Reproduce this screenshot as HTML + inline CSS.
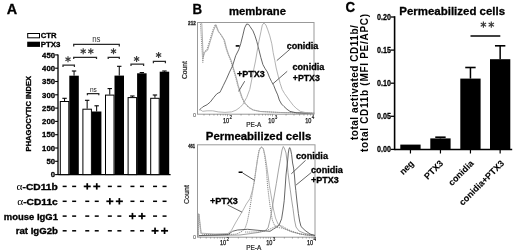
<!DOCTYPE html><html><head><meta charset="utf-8"><style>html,body{margin:0;padding:0;background:#fff;width:520px;height:252px;overflow:hidden}svg{display:block;filter:grayscale(1)}</style></head><body>
<svg width="520" height="252" viewBox="0 0 520 252">
<rect width="520" height="252" fill="#fff"/>
<text x="6.7" y="13.9" font-family="Liberation Sans, sans-serif" font-size="14.8" font-weight="bold" text-anchor="start" fill="#000" stroke="#000" stroke-width="0.3" textLength="10.4" lengthAdjust="spacingAndGlyphs" >A</text>
<rect x="27.7" y="33.5" width="11.8" height="4.3" fill="#fff" stroke="#000" stroke-width="1"/>
<rect x="27.2" y="41.7" width="12.8" height="5.2" fill="#000"/>
<text x="40.8" y="38.2" font-family="Liberation Sans, sans-serif" font-size="8.0" font-weight="bold" text-anchor="start" fill="#000" stroke="#000" stroke-width="0.3" textLength="15.8" lengthAdjust="spacingAndGlyphs" >CTR</text>
<text x="40.8" y="47.0" font-family="Liberation Sans, sans-serif" font-size="8.0" font-weight="bold" text-anchor="start" fill="#000" stroke="#000" stroke-width="0.3" textLength="19.7" lengthAdjust="spacingAndGlyphs" >PTX3</text>
<line x1="58.0" y1="54.39999999999999" x2="58.0" y2="175.1" stroke="#000" stroke-width="1.3" />
<line x1="55.1" y1="174.6" x2="58.0" y2="174.6" stroke="#000" stroke-width="1.1" />
<text x="55.0" y="177.3" font-family="Liberation Sans, sans-serif" font-size="7.5" font-weight="bold" text-anchor="end" fill="#000" stroke="#000" stroke-width="0.3" textLength="4.3" lengthAdjust="spacingAndGlyphs" >0</text>
<line x1="55.1" y1="161.29999999999998" x2="58.0" y2="161.29999999999998" stroke="#000" stroke-width="1.1" />
<text x="55.0" y="164.0" font-family="Liberation Sans, sans-serif" font-size="7.5" font-weight="bold" text-anchor="end" fill="#000" stroke="#000" stroke-width="0.3" textLength="8.6" lengthAdjust="spacingAndGlyphs" >50</text>
<line x1="55.1" y1="148.0" x2="58.0" y2="148.0" stroke="#000" stroke-width="1.1" />
<text x="55.0" y="150.7" font-family="Liberation Sans, sans-serif" font-size="7.5" font-weight="bold" text-anchor="end" fill="#000" stroke="#000" stroke-width="0.3" textLength="12.899999999999999" lengthAdjust="spacingAndGlyphs" >100</text>
<line x1="55.1" y1="134.7" x2="58.0" y2="134.7" stroke="#000" stroke-width="1.1" />
<text x="55.0" y="137.4" font-family="Liberation Sans, sans-serif" font-size="7.5" font-weight="bold" text-anchor="end" fill="#000" stroke="#000" stroke-width="0.3" textLength="12.899999999999999" lengthAdjust="spacingAndGlyphs" >150</text>
<line x1="55.1" y1="121.39999999999999" x2="58.0" y2="121.39999999999999" stroke="#000" stroke-width="1.1" />
<text x="55.0" y="124.1" font-family="Liberation Sans, sans-serif" font-size="7.5" font-weight="bold" text-anchor="end" fill="#000" stroke="#000" stroke-width="0.3" textLength="12.899999999999999" lengthAdjust="spacingAndGlyphs" >200</text>
<line x1="55.1" y1="108.1" x2="58.0" y2="108.1" stroke="#000" stroke-width="1.1" />
<text x="55.0" y="110.8" font-family="Liberation Sans, sans-serif" font-size="7.5" font-weight="bold" text-anchor="end" fill="#000" stroke="#000" stroke-width="0.3" textLength="12.899999999999999" lengthAdjust="spacingAndGlyphs" >250</text>
<line x1="55.1" y1="94.79999999999998" x2="58.0" y2="94.79999999999998" stroke="#000" stroke-width="1.1" />
<text x="55.0" y="97.5" font-family="Liberation Sans, sans-serif" font-size="7.5" font-weight="bold" text-anchor="end" fill="#000" stroke="#000" stroke-width="0.3" textLength="12.899999999999999" lengthAdjust="spacingAndGlyphs" >300</text>
<line x1="55.1" y1="81.49999999999999" x2="58.0" y2="81.49999999999999" stroke="#000" stroke-width="1.1" />
<text x="55.0" y="84.2" font-family="Liberation Sans, sans-serif" font-size="7.5" font-weight="bold" text-anchor="end" fill="#000" stroke="#000" stroke-width="0.3" textLength="12.899999999999999" lengthAdjust="spacingAndGlyphs" >350</text>
<line x1="55.1" y1="68.19999999999999" x2="58.0" y2="68.19999999999999" stroke="#000" stroke-width="1.1" />
<text x="55.0" y="70.9" font-family="Liberation Sans, sans-serif" font-size="7.5" font-weight="bold" text-anchor="end" fill="#000" stroke="#000" stroke-width="0.3" textLength="12.899999999999999" lengthAdjust="spacingAndGlyphs" >400</text>
<line x1="55.1" y1="54.89999999999999" x2="58.0" y2="54.89999999999999" stroke="#000" stroke-width="1.1" />
<text x="55.0" y="57.6" font-family="Liberation Sans, sans-serif" font-size="7.5" font-weight="bold" text-anchor="end" fill="#000" stroke="#000" stroke-width="0.3" textLength="12.899999999999999" lengthAdjust="spacingAndGlyphs" >450</text>
<line x1="58.0" y1="174.6" x2="170.6" y2="174.6" stroke="#000" stroke-width="1.3" />
<text transform="translate(30.8,113.7) rotate(-90)" x="0" y="0" font-family="Liberation Sans, sans-serif" font-size="7.5" font-weight="bold" stroke="#000" stroke-width="0.3" text-anchor="middle" textLength="75.4" lengthAdjust="spacingAndGlyphs">PHAGOCYTIC INDEX</text>
<line x1="64.55" y1="101.0" x2="64.55" y2="98.3" stroke="#000" stroke-width="1" />
<line x1="62.349999999999994" y1="98.3" x2="66.75" y2="98.3" stroke="#000" stroke-width="1.1" />
<line x1="74.05" y1="75.7" x2="74.05" y2="71.0" stroke="#000" stroke-width="1" />
<line x1="71.85" y1="71.0" x2="76.25" y2="71.0" stroke="#000" stroke-width="1.1" />
<rect x="60.3" y="101.5" width="8.5" height="73.1" fill="#fff" stroke="#000" stroke-width="1"/>
<rect x="69.3" y="75.7" width="9.5" height="98.89999999999999" fill="#000"/>
<line x1="87.15" y1="108.7" x2="87.15" y2="100.3" stroke="#000" stroke-width="1" />
<line x1="84.95" y1="100.3" x2="89.35000000000001" y2="100.3" stroke="#000" stroke-width="1.1" />
<line x1="96.65" y1="111.5" x2="96.65" y2="105.8" stroke="#000" stroke-width="1" />
<line x1="94.45" y1="105.8" x2="98.85000000000001" y2="105.8" stroke="#000" stroke-width="1.1" />
<rect x="82.9" y="109.2" width="8.5" height="65.39999999999999" fill="#fff" stroke="#000" stroke-width="1"/>
<rect x="91.9" y="111.5" width="9.5" height="63.099999999999994" fill="#000"/>
<line x1="109.75" y1="94.6" x2="109.75" y2="88.6" stroke="#000" stroke-width="1" />
<line x1="107.55" y1="88.6" x2="111.95" y2="88.6" stroke="#000" stroke-width="1.1" />
<line x1="119.25" y1="75.6" x2="119.25" y2="66.3" stroke="#000" stroke-width="1" />
<line x1="117.05" y1="66.3" x2="121.45" y2="66.3" stroke="#000" stroke-width="1.1" />
<rect x="105.5" y="95.1" width="8.5" height="79.5" fill="#fff" stroke="#000" stroke-width="1"/>
<rect x="114.5" y="75.6" width="9.5" height="99.0" fill="#000"/>
<line x1="132.35000000000002" y1="97.1" x2="132.35000000000002" y2="96.0" stroke="#000" stroke-width="1" />
<line x1="130.15000000000003" y1="96.0" x2="134.55" y2="96.0" stroke="#000" stroke-width="1.1" />
<line x1="141.85000000000002" y1="73.3" x2="141.85000000000002" y2="72.6" stroke="#000" stroke-width="1" />
<line x1="139.65000000000003" y1="72.6" x2="144.05" y2="72.6" stroke="#000" stroke-width="1.1" />
<rect x="128.10000000000002" y="97.6" width="8.5" height="77.0" fill="#fff" stroke="#000" stroke-width="1"/>
<rect x="137.10000000000002" y="73.3" width="9.5" height="101.3" fill="#000"/>
<line x1="154.95" y1="97.8" x2="154.95" y2="95.0" stroke="#000" stroke-width="1" />
<line x1="152.75" y1="95.0" x2="157.14999999999998" y2="95.0" stroke="#000" stroke-width="1.1" />
<line x1="164.45" y1="71.7" x2="164.45" y2="71.0" stroke="#000" stroke-width="1" />
<line x1="162.25" y1="71.0" x2="166.64999999999998" y2="71.0" stroke="#000" stroke-width="1.1" />
<rect x="150.7" y="98.3" width="8.5" height="76.3" fill="#fff" stroke="#000" stroke-width="1"/>
<rect x="159.7" y="71.7" width="9.5" height="102.89999999999999" fill="#000"/>
<polyline points="63.0,67.0 63.0,65.2 74.4,65.2 74.4,67.0" fill="none" stroke="#2a2a2a" stroke-width="1.25"/>
<line x1="68.0" y1="56.2" x2="68.0" y2="62.2" stroke="#3a3a3a" stroke-width="1.15" />
<line x1="65.4" y1="57.7" x2="70.6" y2="60.7" stroke="#3a3a3a" stroke-width="1.15" />
<line x1="65.4" y1="60.7" x2="70.6" y2="57.7" stroke="#3a3a3a" stroke-width="1.15" />
<polyline points="73.7,59.099999999999994 73.7,57.3 96.5,57.3 96.5,59.099999999999994" fill="none" stroke="#2a2a2a" stroke-width="1.25"/>
<line x1="83.2" y1="48.2" x2="83.2" y2="54.2" stroke="#3a3a3a" stroke-width="1.15" />
<line x1="80.6" y1="49.7" x2="85.8" y2="52.7" stroke="#3a3a3a" stroke-width="1.15" />
<line x1="80.6" y1="52.7" x2="85.8" y2="49.7" stroke="#3a3a3a" stroke-width="1.15" />
<line x1="90.8" y1="48.2" x2="90.8" y2="54.2" stroke="#3a3a3a" stroke-width="1.15" />
<line x1="88.2" y1="49.7" x2="93.4" y2="52.7" stroke="#3a3a3a" stroke-width="1.15" />
<line x1="88.2" y1="52.7" x2="93.4" y2="49.7" stroke="#3a3a3a" stroke-width="1.15" />
<polyline points="108.2,59.099999999999994 108.2,57.3 119.3,57.3 119.3,59.099999999999994" fill="none" stroke="#2a2a2a" stroke-width="1.25"/>
<line x1="113.5" y1="48.2" x2="113.5" y2="54.2" stroke="#3a3a3a" stroke-width="1.15" />
<line x1="110.9" y1="49.7" x2="116.1" y2="52.7" stroke="#3a3a3a" stroke-width="1.15" />
<line x1="110.9" y1="52.7" x2="116.1" y2="49.7" stroke="#3a3a3a" stroke-width="1.15" />
<polyline points="73.7,46.4 73.7,44.4 119.3,44.4 119.3,46.4" fill="none" stroke="#2a2a2a" stroke-width="1.25"/>
<text x="96.3" y="41.7" font-family="Liberation Sans, sans-serif" font-size="8.8" font-weight="normal" text-anchor="middle" fill="#333" textLength="8.3" lengthAdjust="spacingAndGlyphs" >ns</text>
<polyline points="87.4,95.3 87.4,93.6 98.8,93.6 98.8,95.3" fill="none" stroke="#2a2a2a" stroke-width="1.25"/>
<text x="93.4" y="91.6" font-family="Liberation Sans, sans-serif" font-size="7.6" font-weight="normal" text-anchor="middle" fill="#222" textLength="6.9" lengthAdjust="spacingAndGlyphs" >ns</text>
<polyline points="131.0,66.0 131.0,64.2 143.6,64.2 143.6,66.0" fill="none" stroke="#2a2a2a" stroke-width="1.25"/>
<line x1="136.6" y1="56.0" x2="136.6" y2="62.0" stroke="#3a3a3a" stroke-width="1.15" />
<line x1="134.0" y1="57.5" x2="139.2" y2="60.5" stroke="#3a3a3a" stroke-width="1.15" />
<line x1="134.0" y1="60.5" x2="139.2" y2="57.5" stroke="#3a3a3a" stroke-width="1.15" />
<polyline points="153.4,63.199999999999996 153.4,61.4 165.4,61.4 165.4,63.199999999999996" fill="none" stroke="#2a2a2a" stroke-width="1.25"/>
<line x1="158.6" y1="52.0" x2="158.6" y2="58.0" stroke="#3a3a3a" stroke-width="1.15" />
<line x1="156.0" y1="53.5" x2="161.2" y2="56.5" stroke="#3a3a3a" stroke-width="1.15" />
<line x1="156.0" y1="56.5" x2="161.2" y2="53.5" stroke="#3a3a3a" stroke-width="1.15" />
<text x="16.599999999999998" y="189.9" font-family="Liberation Serif, serif" font-size="10.5" font-weight="normal" text-anchor="start" fill="#000" textLength="6.0" lengthAdjust="spacingAndGlyphs" >α</text>
<text x="22.5" y="189.9" font-family="Liberation Sans, sans-serif" font-size="8.5" font-weight="bold" text-anchor="start" fill="#000" stroke="#000" stroke-width="0.3" textLength="35.3" lengthAdjust="spacingAndGlyphs" >-CD11b</text>
<rect x="62.65" y="185.65" width="4.0" height="1.5" fill="#000"/>
<rect x="72.15" y="185.65" width="4.0" height="1.5" fill="#000"/>
<rect x="83.75" y="185.55" width="7.0" height="1.7" fill="#000"/>
<rect x="86.4" y="183.2" width="1.7" height="6.4" fill="#000"/>
<rect x="93.25" y="185.55" width="7.0" height="1.7" fill="#000"/>
<rect x="95.9" y="183.2" width="1.7" height="6.4" fill="#000"/>
<rect x="107.85" y="185.65" width="4.0" height="1.5" fill="#000"/>
<rect x="117.35" y="185.65" width="4.0" height="1.5" fill="#000"/>
<rect x="130.45" y="185.65" width="4.0" height="1.5" fill="#000"/>
<rect x="139.95" y="185.65" width="4.0" height="1.5" fill="#000"/>
<rect x="153.05" y="185.65" width="4.0" height="1.5" fill="#000"/>
<rect x="162.55" y="185.65" width="4.0" height="1.5" fill="#000"/>
<text x="17.3" y="204.6" font-family="Liberation Serif, serif" font-size="10.5" font-weight="normal" text-anchor="start" fill="#000" textLength="6.0" lengthAdjust="spacingAndGlyphs" >α</text>
<text x="23.200000000000003" y="204.6" font-family="Liberation Sans, sans-serif" font-size="8.5" font-weight="bold" text-anchor="start" fill="#000" stroke="#000" stroke-width="0.3" textLength="34.599999999999994" lengthAdjust="spacingAndGlyphs" >-CD11c</text>
<rect x="62.65" y="200.55" width="4.0" height="1.5" fill="#000"/>
<rect x="72.15" y="200.55" width="4.0" height="1.5" fill="#000"/>
<rect x="85.25" y="200.55" width="4.0" height="1.5" fill="#000"/>
<rect x="94.75" y="200.55" width="4.0" height="1.5" fill="#000"/>
<rect x="106.35" y="200.45" width="7.0" height="1.7" fill="#000"/>
<rect x="109.0" y="198.1" width="1.7" height="6.4" fill="#000"/>
<rect x="115.85" y="200.45" width="7.0" height="1.7" fill="#000"/>
<rect x="118.5" y="198.1" width="1.7" height="6.4" fill="#000"/>
<rect x="130.45" y="200.55" width="4.0" height="1.5" fill="#000"/>
<rect x="139.95" y="200.55" width="4.0" height="1.5" fill="#000"/>
<rect x="153.05" y="200.55" width="4.0" height="1.5" fill="#000"/>
<rect x="162.55" y="200.55" width="4.0" height="1.5" fill="#000"/>
<text x="3.8" y="219.5" font-family="Liberation Sans, sans-serif" font-size="8.5" font-weight="bold" text-anchor="start" fill="#000" stroke="#000" stroke-width="0.3" textLength="54.1" lengthAdjust="spacingAndGlyphs" >mouse IgG1</text>
<rect x="62.65" y="215.35" width="4.0" height="1.5" fill="#000"/>
<rect x="72.15" y="215.35" width="4.0" height="1.5" fill="#000"/>
<rect x="85.25" y="215.35" width="4.0" height="1.5" fill="#000"/>
<rect x="94.75" y="215.35" width="4.0" height="1.5" fill="#000"/>
<rect x="107.85" y="215.35" width="4.0" height="1.5" fill="#000"/>
<rect x="117.35" y="215.35" width="4.0" height="1.5" fill="#000"/>
<rect x="128.95" y="215.25" width="7.0" height="1.7" fill="#000"/>
<rect x="131.6" y="212.9" width="1.7" height="6.4" fill="#000"/>
<rect x="138.45" y="215.25" width="7.0" height="1.7" fill="#000"/>
<rect x="141.1" y="212.9" width="1.7" height="6.4" fill="#000"/>
<rect x="153.05" y="215.35" width="4.0" height="1.5" fill="#000"/>
<rect x="162.55" y="215.35" width="4.0" height="1.5" fill="#000"/>
<text x="15.7" y="234.2" font-family="Liberation Sans, sans-serif" font-size="8.5" font-weight="bold" text-anchor="start" fill="#000" stroke="#000" stroke-width="0.3" textLength="42.2" lengthAdjust="spacingAndGlyphs" >rat IgG2b</text>
<rect x="62.65" y="230.05" width="4.0" height="1.5" fill="#000"/>
<rect x="72.15" y="230.05" width="4.0" height="1.5" fill="#000"/>
<rect x="85.25" y="230.05" width="4.0" height="1.5" fill="#000"/>
<rect x="94.75" y="230.05" width="4.0" height="1.5" fill="#000"/>
<rect x="107.85" y="230.05" width="4.0" height="1.5" fill="#000"/>
<rect x="117.35" y="230.05" width="4.0" height="1.5" fill="#000"/>
<rect x="130.45" y="230.05" width="4.0" height="1.5" fill="#000"/>
<rect x="139.95" y="230.05" width="4.0" height="1.5" fill="#000"/>
<rect x="151.55" y="229.95" width="7.0" height="1.7" fill="#000"/>
<rect x="154.2" y="227.6" width="1.7" height="6.4" fill="#000"/>
<rect x="161.05" y="229.95" width="7.0" height="1.7" fill="#000"/>
<rect x="163.7" y="227.6" width="1.7" height="6.4" fill="#000"/>
<text x="192.5" y="13.5" font-family="Liberation Sans, sans-serif" font-size="14.8" font-weight="bold" text-anchor="start" fill="#000" stroke="#000" stroke-width="0.3" textLength="9.6" lengthAdjust="spacingAndGlyphs" >B</text>
<text x="229.0" y="14.8" font-family="Liberation Sans, sans-serif" font-size="11.5" font-weight="bold" text-anchor="start" fill="#000" stroke="#000" stroke-width="0.3" textLength="57" lengthAdjust="spacingAndGlyphs" >membrane</text>
<rect x="197.5" y="22.5" width="116.5" height="91.7" fill="none" stroke="#999" stroke-width="1"/>
<text x="188.1" y="24.5" font-family="Liberation Sans, sans-serif" font-size="5.3" font-weight="bold" text-anchor="start" fill="#222" stroke="#222" stroke-width="0.3" textLength="7.7" lengthAdjust="spacingAndGlyphs" >212</text>
<text x="193.0" y="116.6" font-family="Liberation Sans, sans-serif" font-size="5.5" font-weight="normal" text-anchor="start" fill="#333" >0</text>
<text transform="translate(187.3,70) rotate(-90)" font-family="Liberation Sans, sans-serif" font-size="6.6" fill="#222" stroke="#222" stroke-width="0.2" text-anchor="middle" textLength="18" lengthAdjust="spacingAndGlyphs">Count</text>
<text x="223.0" y="122.6" font-family="Liberation Sans, sans-serif" font-size="6.8" font-weight="normal" text-anchor="start" fill="#111" textLength="6.2" lengthAdjust="spacingAndGlyphs" stroke="#111" stroke-width="0.25">10</text>
<text x="229.5" y="118.6" font-family="Liberation Sans, sans-serif" font-size="4.6" font-weight="normal" text-anchor="start" fill="#111" stroke="#111" stroke-width="0.15">2</text>
<text x="268.3" y="122.6" font-family="Liberation Sans, sans-serif" font-size="6.8" font-weight="normal" text-anchor="start" fill="#111" textLength="6.2" lengthAdjust="spacingAndGlyphs" stroke="#111" stroke-width="0.25">10</text>
<text x="274.8" y="118.6" font-family="Liberation Sans, sans-serif" font-size="4.6" font-weight="normal" text-anchor="start" fill="#111" stroke="#111" stroke-width="0.15">3</text>
<text x="305.2" y="122.6" font-family="Liberation Sans, sans-serif" font-size="6.8" font-weight="normal" text-anchor="start" fill="#111" textLength="6.2" lengthAdjust="spacingAndGlyphs" stroke="#111" stroke-width="0.25">10</text>
<text x="311.7" y="118.6" font-family="Liberation Sans, sans-serif" font-size="4.6" font-weight="normal" text-anchor="start" fill="#111" stroke="#111" stroke-width="0.15">4</text>
<line x1="227.5" y1="114.2" x2="227.5" y2="116.4" stroke="#777" stroke-width="0.7" />
<line x1="241.05" y1="114.2" x2="241.05" y2="115.5" stroke="#777" stroke-width="0.7" />
<line x1="248.97" y1="114.2" x2="248.97" y2="115.5" stroke="#777" stroke-width="0.7" />
<line x1="254.59" y1="114.2" x2="254.59" y2="115.5" stroke="#777" stroke-width="0.7" />
<line x1="258.95" y1="114.2" x2="258.95" y2="115.5" stroke="#777" stroke-width="0.7" />
<line x1="262.52" y1="114.2" x2="262.52" y2="115.5" stroke="#777" stroke-width="0.7" />
<line x1="265.53" y1="114.2" x2="265.53" y2="115.5" stroke="#777" stroke-width="0.7" />
<line x1="268.14" y1="114.2" x2="268.14" y2="115.5" stroke="#777" stroke-width="0.7" />
<line x1="270.44" y1="114.2" x2="270.44" y2="115.5" stroke="#777" stroke-width="0.7" />
<line x1="272.5" y1="114.2" x2="272.5" y2="116.4" stroke="#777" stroke-width="0.7" />
<line x1="286.05" y1="114.2" x2="286.05" y2="115.5" stroke="#777" stroke-width="0.7" />
<line x1="293.97" y1="114.2" x2="293.97" y2="115.5" stroke="#777" stroke-width="0.7" />
<line x1="299.59" y1="114.2" x2="299.59" y2="115.5" stroke="#777" stroke-width="0.7" />
<line x1="303.95" y1="114.2" x2="303.95" y2="115.5" stroke="#777" stroke-width="0.7" />
<line x1="307.52" y1="114.2" x2="307.52" y2="115.5" stroke="#777" stroke-width="0.7" />
<line x1="310.53" y1="114.2" x2="310.53" y2="115.5" stroke="#777" stroke-width="0.7" />
<line x1="313.14" y1="114.2" x2="313.14" y2="115.5" stroke="#777" stroke-width="0.7" />
<line x1="313.5" y1="114.2" x2="313.5" y2="116.4" stroke="#777" stroke-width="0.7" />
<line x1="203.97" y1="114.2" x2="203.97" y2="115.5" stroke="#777" stroke-width="0.7" />
<line x1="209.59" y1="114.2" x2="209.59" y2="115.5" stroke="#777" stroke-width="0.7" />
<line x1="213.95" y1="114.2" x2="213.95" y2="115.5" stroke="#777" stroke-width="0.7" />
<line x1="217.52" y1="114.2" x2="217.52" y2="115.5" stroke="#777" stroke-width="0.7" />
<line x1="220.53" y1="114.2" x2="220.53" y2="115.5" stroke="#777" stroke-width="0.7" />
<line x1="223.14" y1="114.2" x2="223.14" y2="115.5" stroke="#777" stroke-width="0.7" />
<line x1="225.44" y1="114.2" x2="225.44" y2="115.5" stroke="#777" stroke-width="0.7" />
<text x="246.3" y="127.3" font-family="Liberation Sans, sans-serif" font-size="6.6" font-weight="normal" text-anchor="start" fill="#222" textLength="15" lengthAdjust="spacingAndGlyphs" stroke="#222" stroke-width="0.2">PE-A</text>
<polyline points="199.6,22.6 200.4,22.8 202.8,62.5 203.9,52 206.9,49.8 209.9,39.8 212.9,29.9 215.3,24.4 217.8,30.9 220.8,34.9 223.8,39.8 225.8,47.8 227.8,53.8 230.7,60.7 232.7,67.6 235.6,77.2 237.6,85.3 239.6,91.4 241.6,97.5 244.7,103.5 248.7,107.6 252.8,110 260,111.5 280,112.5 314,113.2" fill="none" stroke="#888" stroke-width="0.9" stroke-linejoin="round" stroke-dasharray="1.2,0.9"/>
<polyline points="201.0,22.8 201.8,23.5 203.2,57.5 204.6,52.4 207.6,50.199999999999996 210.6,40.199999999999996 213.6,30.299999999999997 216.0,24.799999999999997 218.5,31.299999999999997 221.5,35.3 224.5,40.199999999999996 226.5,48.199999999999996 228.5,54.199999999999996 231.39999999999998,61.1 233.39999999999998,68.0 236.29999999999998,77.60000000000001 238.29999999999998,85.7 240.29999999999998,91.80000000000001 242.29999999999998,97.9 245.39999999999998,103.5 249.39999999999998,107.6 253.5,110 260.7,111.5 280.7,112.5 314.7,113.2" fill="none" stroke="#999" stroke-width="0.8" stroke-linejoin="round"/>
<polyline points="199.3,110 201,108.6 202.7,106.9 207.1,104.7 210.4,101.9 213.8,97.4 216.6,94.1 218.2,93 219.9,92.4 221,90.2 222.1,88 223.4,85.3 226.4,79.2 229.5,72.1 232.5,66 235.7,55.7 238.7,49.8 240.7,43.8 242.7,35.9 244.6,27.9 246.6,24 248.6,24.4 250,26.5 253,30.9 255,35.9 256.9,41.8 258.9,49.7 260.9,57.7 262.9,64.6 265.2,68.8 267.4,72 269.4,77.2 271.5,81.5 273.7,85.4 275.5,90 277.7,94.9 279.3,100 281.5,104 284,106.5 287,109.3 290,111.4 296.2,112.8 314,113.5" fill="none" stroke="#555" stroke-width="0.9" stroke-linejoin="round"/>
<polyline points="199.5,109.5 201,110.2 202.7,111.3 207.1,110.8 212.7,110.8 218.2,111.9 224.9,112.4 231.6,111.9 236,110.2 239.9,107.4 242.7,104.6 246.7,97.5 249.8,89.3 251.8,79.2 253.8,69.1 255.5,61 257.2,51 258.8,41.8 260.9,31.9 262.3,25 263.9,23 265.9,25 267.8,29.9 269.8,35.9 271.8,43.8 273.2,52.7 274.8,60.6 276.2,68 278.2,76 280.2,83.6 282.2,89.5 284.5,93.5 287,97 290,101.1 293.1,105.2 296.2,108.3 300.4,111.4 306.5,112.8 314,113.5" fill="none" stroke="#aaa" stroke-width="0.9" stroke-linejoin="round"/>
<rect x="235.7" y="45.1" width="3.8" height="1.6" fill="#000"/>
<text x="237" y="76.7" font-family="Liberation Sans, sans-serif" font-size="9" font-weight="bold" text-anchor="start" fill="#000" stroke="#000" stroke-width="0.3" textLength="27.7" lengthAdjust="spacingAndGlyphs" >+PTX3</text>
<line x1="244.7" y1="81.2" x2="238.6" y2="91.4" stroke="#555" stroke-width="0.9" />
<text x="286.7" y="48.8" font-family="Liberation Sans, sans-serif" font-size="9" font-weight="bold" text-anchor="start" fill="#000" stroke="#000" stroke-width="0.3" textLength="31.6" lengthAdjust="spacingAndGlyphs" >conidia</text>
<line x1="290.0" y1="49.2" x2="276.8" y2="60.6" stroke="#555" stroke-width="0.9" />
<text x="292.5" y="70.3" font-family="Liberation Sans, sans-serif" font-size="9" font-weight="bold" text-anchor="start" fill="#000" stroke="#000" stroke-width="0.3" textLength="31.8" lengthAdjust="spacingAndGlyphs" >conidia</text>
<text x="292.8" y="80.6" font-family="Liberation Sans, sans-serif" font-size="9" font-weight="bold" text-anchor="start" fill="#000" stroke="#000" stroke-width="0.3" textLength="27" lengthAdjust="spacingAndGlyphs" >+PTX3</text>
<line x1="287.2" y1="71.3" x2="272.9" y2="83.8" stroke="#555" stroke-width="0.9" />
<text x="205.8" y="140.3" font-family="Liberation Sans, sans-serif" font-size="11.8" font-weight="bold" text-anchor="start" fill="#000" stroke="#000" stroke-width="0.3" textLength="105.5" lengthAdjust="spacingAndGlyphs" >Permeabilized cells</text>
<rect x="197.5" y="144.8" width="117.5" height="92.39999999999998" fill="none" stroke="#999" stroke-width="1"/>
<text x="188.3" y="148.0" font-family="Liberation Sans, sans-serif" font-size="5.3" font-weight="bold" text-anchor="start" fill="#222" stroke="#222" stroke-width="0.3" textLength="6.8" lengthAdjust="spacingAndGlyphs" >461</text>
<text x="193.0" y="239.3" font-family="Liberation Sans, sans-serif" font-size="5.5" font-weight="normal" text-anchor="start" fill="#333" >0</text>
<text transform="translate(188.5,194.6) rotate(-90)" font-family="Liberation Sans, sans-serif" font-size="6.6" fill="#222" stroke="#222" stroke-width="0.2" text-anchor="middle" textLength="19" lengthAdjust="spacingAndGlyphs">Count</text>
<text x="220.0" y="244.5" font-family="Liberation Sans, sans-serif" font-size="6.8" font-weight="normal" text-anchor="start" fill="#111" textLength="6.2" lengthAdjust="spacingAndGlyphs" stroke="#111" stroke-width="0.25">10</text>
<text x="226.5" y="240.5" font-family="Liberation Sans, sans-serif" font-size="4.6" font-weight="normal" text-anchor="start" fill="#111" stroke="#111" stroke-width="0.15">2</text>
<text x="266.2" y="244.5" font-family="Liberation Sans, sans-serif" font-size="6.8" font-weight="normal" text-anchor="start" fill="#111" textLength="6.2" lengthAdjust="spacingAndGlyphs" stroke="#111" stroke-width="0.25">10</text>
<text x="272.7" y="240.5" font-family="Liberation Sans, sans-serif" font-size="4.6" font-weight="normal" text-anchor="start" fill="#111" stroke="#111" stroke-width="0.15">3</text>
<text x="307.0" y="244.5" font-family="Liberation Sans, sans-serif" font-size="6.8" font-weight="normal" text-anchor="start" fill="#111" textLength="6.2" lengthAdjust="spacingAndGlyphs" stroke="#111" stroke-width="0.25">10</text>
<text x="313.5" y="240.5" font-family="Liberation Sans, sans-serif" font-size="4.6" font-weight="normal" text-anchor="start" fill="#111" stroke="#111" stroke-width="0.15">4</text>
<line x1="224.5" y1="237.2" x2="224.5" y2="239.39999999999998" stroke="#777" stroke-width="0.7" />
<line x1="238.35" y1="237.2" x2="238.35" y2="238.5" stroke="#777" stroke-width="0.7" />
<line x1="246.45" y1="237.2" x2="246.45" y2="238.5" stroke="#777" stroke-width="0.7" />
<line x1="252.19" y1="237.2" x2="252.19" y2="238.5" stroke="#777" stroke-width="0.7" />
<line x1="256.65" y1="237.2" x2="256.65" y2="238.5" stroke="#777" stroke-width="0.7" />
<line x1="260.29" y1="237.2" x2="260.29" y2="238.5" stroke="#777" stroke-width="0.7" />
<line x1="263.37" y1="237.2" x2="263.37" y2="238.5" stroke="#777" stroke-width="0.7" />
<line x1="266.04" y1="237.2" x2="266.04" y2="238.5" stroke="#777" stroke-width="0.7" />
<line x1="268.4" y1="237.2" x2="268.4" y2="238.5" stroke="#777" stroke-width="0.7" />
<line x1="270.5" y1="237.2" x2="270.5" y2="239.39999999999998" stroke="#777" stroke-width="0.7" />
<line x1="284.35" y1="237.2" x2="284.35" y2="238.5" stroke="#777" stroke-width="0.7" />
<line x1="292.45" y1="237.2" x2="292.45" y2="238.5" stroke="#777" stroke-width="0.7" />
<line x1="298.19" y1="237.2" x2="298.19" y2="238.5" stroke="#777" stroke-width="0.7" />
<line x1="302.65" y1="237.2" x2="302.65" y2="238.5" stroke="#777" stroke-width="0.7" />
<line x1="306.29" y1="237.2" x2="306.29" y2="238.5" stroke="#777" stroke-width="0.7" />
<line x1="309.37" y1="237.2" x2="309.37" y2="238.5" stroke="#777" stroke-width="0.7" />
<line x1="312.04" y1="237.2" x2="312.04" y2="238.5" stroke="#777" stroke-width="0.7" />
<line x1="314.4" y1="237.2" x2="314.4" y2="238.5" stroke="#777" stroke-width="0.7" />
<line x1="314.0" y1="237.2" x2="314.0" y2="239.39999999999998" stroke="#777" stroke-width="0.7" />
<line x1="200.45" y1="237.2" x2="200.45" y2="238.5" stroke="#777" stroke-width="0.7" />
<line x1="206.19" y1="237.2" x2="206.19" y2="238.5" stroke="#777" stroke-width="0.7" />
<line x1="210.65" y1="237.2" x2="210.65" y2="238.5" stroke="#777" stroke-width="0.7" />
<line x1="214.29" y1="237.2" x2="214.29" y2="238.5" stroke="#777" stroke-width="0.7" />
<line x1="217.37" y1="237.2" x2="217.37" y2="238.5" stroke="#777" stroke-width="0.7" />
<line x1="220.04" y1="237.2" x2="220.04" y2="238.5" stroke="#777" stroke-width="0.7" />
<line x1="222.4" y1="237.2" x2="222.4" y2="238.5" stroke="#777" stroke-width="0.7" />
<text x="246.3" y="250.2" font-family="Liberation Sans, sans-serif" font-size="6.6" font-weight="normal" text-anchor="start" fill="#222" textLength="15" lengthAdjust="spacingAndGlyphs" stroke="#222" stroke-width="0.2">PE-A</text>
<polyline points="198.3,236.5 198.6,213.5 201,233.6 204,234.6 226,234.6 236,234.2 241,232 245,228.7 247.2,222.1 249.4,211.2 251.5,198.1 253.7,185 254.5,179.8 255.9,169.8 257.3,159.9 258.9,150.9 260.5,147.6 261.9,147 263.3,148.9 264.7,155.9 266,165.8 266.8,175 267.5,185 269,198.1 270.8,211.2 272.3,219.9 274.5,225.4 277.8,227.6 282,228 290,231 300,234 315,235.5" fill="none" stroke="#777" stroke-width="0.9" stroke-linejoin="round" stroke-dasharray="1.2,0.9"/>
<polyline points="198.5,236.5 199,214 201.2,233.2 215,234 228,233.5 231.25,230.7 236,222 242,212 246.4,203.9 250,198.6 252.5,190 254.6,179.8 256,169.8 257.5,159.9 259.1,150.9 260.7,147.6 262,147.2 263.5,149 265.1,155.9 266.7,165.8 268.1,175.8 269.4,185.7 271.2,195.9 273.4,209 275.5,218 278,224 283,228 292,232 305,235 315,236" fill="none" stroke="#aaa" stroke-width="0.9" stroke-linejoin="round"/>
<polyline points="199,235.8 240,235 258,232.5 264.7,231 268,228 270,220 271.5,212 273.5,200 276.3,183.7 278.5,170 280.5,158.7 282,150 283.3,146.5 284.7,149 286,153 287.2,163 288,172.6 289.2,182 290.2,189.2 291.5,199 293,208.7 294.5,220 296,227 299,231 305,233.5 315,235.5" fill="none" stroke="#999" stroke-width="0.9" stroke-linejoin="round"/>
<polyline points="199,235.6 228,234.6 232.5,231.3 237.5,230 247.5,229.3 260,230.5 270,231.3 273.5,229 276,227.5 279,225.3 281.6,218.8 283,210 284.2,200.8 285.2,187 286,175 286.9,167 287.6,161 288.3,153.1 289,149 289.7,147.6 290.6,149.5 291.6,154.5 292.6,163 293.6,168 294.5,176 295.2,185 295.8,190.5 297,202 298.4,213.7 299.6,221 301,226.5 305,230.4 310,234 315,235.5" fill="none" stroke="#555" stroke-width="0.9" stroke-linejoin="round"/>
<polyline points="245,232 258,232 264.7,231 270,229 277.8,225.4 282.1,226 286.5,228.7 290.9,230.9 300,234 315,236" fill="none" stroke="#777" stroke-width="0.8" stroke-linejoin="round" stroke-dasharray="1.2,0.9"/>
<rect x="238.6" y="171.5" width="4.0" height="1.5" fill="#000"/>
<line x1="242.7" y1="173.0" x2="254.6" y2="180.4" stroke="#444" stroke-width="0.9" />
<text x="210" y="203.6" font-family="Liberation Sans, sans-serif" font-size="9" font-weight="bold" text-anchor="start" fill="#000" stroke="#000" stroke-width="0.3" textLength="27.9" lengthAdjust="spacingAndGlyphs" >+PTX3</text>
<line x1="227.8" y1="205.0" x2="242.1" y2="212.2" stroke="#555" stroke-width="0.9" />
<text x="296" y="158.5" font-family="Liberation Sans, sans-serif" font-size="9" font-weight="bold" text-anchor="start" fill="#000" stroke="#000" stroke-width="0.3" textLength="32" lengthAdjust="spacingAndGlyphs" >conidia</text>
<line x1="305.6" y1="160.3" x2="291.3" y2="173.8" stroke="#555" stroke-width="0.9" />
<text x="311" y="172.8" font-family="Liberation Sans, sans-serif" font-size="9" font-weight="bold" text-anchor="start" fill="#000" stroke="#000" stroke-width="0.3" textLength="31.9" lengthAdjust="spacingAndGlyphs" >conidia</text>
<text x="311" y="183.4" font-family="Liberation Sans, sans-serif" font-size="9" font-weight="bold" text-anchor="start" fill="#000" stroke="#000" stroke-width="0.3" textLength="27.7" lengthAdjust="spacingAndGlyphs" >+PTX3</text>
<line x1="311.2" y1="172.6" x2="296.1" y2="185.0" stroke="#555" stroke-width="0.9" />
<text x="345.5" y="12.1" font-family="Liberation Sans, sans-serif" font-size="14.8" font-weight="bold" text-anchor="start" fill="#000" stroke="#000" stroke-width="0.3" textLength="9.6" lengthAdjust="spacingAndGlyphs" >C</text>
<text x="399.3" y="14.6" font-family="Liberation Sans, sans-serif" font-size="11.8" font-weight="bold" text-anchor="start" fill="#000" stroke="#000" stroke-width="0.3" textLength="105.8" lengthAdjust="spacingAndGlyphs" >Permeabilized cells</text>
<line x1="394.6" y1="16.2" x2="394.6" y2="150.20000000000002" stroke="#000" stroke-width="1.6" />
<line x1="390.8" y1="149.4" x2="394.6" y2="149.4" stroke="#000" stroke-width="1.3" />
<text x="391.0" y="152.3" font-family="Liberation Sans, sans-serif" font-size="9.9" font-weight="bold" text-anchor="end" fill="#000" stroke="#000" stroke-width="0.3" textLength="13.9" lengthAdjust="spacingAndGlyphs" >0.00</text>
<line x1="390.8" y1="116.30000000000001" x2="394.6" y2="116.30000000000001" stroke="#000" stroke-width="1.3" />
<text x="391.0" y="119.2" font-family="Liberation Sans, sans-serif" font-size="9.9" font-weight="bold" text-anchor="end" fill="#000" stroke="#000" stroke-width="0.3" textLength="13.9" lengthAdjust="spacingAndGlyphs" >0.05</text>
<line x1="390.8" y1="83.2" x2="394.6" y2="83.2" stroke="#000" stroke-width="1.3" />
<text x="391.0" y="86.1" font-family="Liberation Sans, sans-serif" font-size="9.9" font-weight="bold" text-anchor="end" fill="#000" stroke="#000" stroke-width="0.3" textLength="13.9" lengthAdjust="spacingAndGlyphs" >0.10</text>
<line x1="390.8" y1="50.10000000000001" x2="394.6" y2="50.10000000000001" stroke="#000" stroke-width="1.3" />
<text x="391.0" y="53.0" font-family="Liberation Sans, sans-serif" font-size="9.9" font-weight="bold" text-anchor="end" fill="#000" stroke="#000" stroke-width="0.3" textLength="13.9" lengthAdjust="spacingAndGlyphs" >0.15</text>
<line x1="390.8" y1="17.0" x2="394.6" y2="17.0" stroke="#000" stroke-width="1.3" />
<text x="391.0" y="19.9" font-family="Liberation Sans, sans-serif" font-size="9.9" font-weight="bold" text-anchor="end" fill="#000" stroke="#000" stroke-width="0.3" textLength="13.9" lengthAdjust="spacingAndGlyphs" >0.20</text>
<line x1="394.6" y1="149.4" x2="512.2" y2="149.4" stroke="#000" stroke-width="1.5" />
<rect x="400.3" y="144.6" width="20.3" height="4.800000000000011" fill="#000"/>
<line x1="410.45" y1="149.4" x2="410.45" y2="153.5" stroke="#000" stroke-width="1.2" />
<line x1="440.45" y1="138.4" x2="440.45" y2="137.2" stroke="#000" stroke-width="1.5" />
<line x1="435.25" y1="137.2" x2="445.65" y2="137.2" stroke="#000" stroke-width="1.6" />
<rect x="430.3" y="138.4" width="20.3" height="11.0" fill="#000"/>
<line x1="440.45" y1="149.4" x2="440.45" y2="153.5" stroke="#000" stroke-width="1.2" />
<line x1="470.45" y1="78.6" x2="470.45" y2="67.5" stroke="#000" stroke-width="1.5" />
<line x1="465.25" y1="67.5" x2="475.65" y2="67.5" stroke="#000" stroke-width="1.6" />
<rect x="460.3" y="78.6" width="20.3" height="70.80000000000001" fill="#000"/>
<line x1="470.45" y1="149.4" x2="470.45" y2="153.5" stroke="#000" stroke-width="1.2" />
<line x1="500.15" y1="59.2" x2="500.15" y2="45.8" stroke="#000" stroke-width="1.5" />
<line x1="494.95" y1="45.8" x2="505.34999999999997" y2="45.8" stroke="#000" stroke-width="1.6" />
<rect x="490.0" y="59.2" width="20.3" height="90.2" fill="#000"/>
<line x1="500.15" y1="149.4" x2="500.15" y2="153.5" stroke="#000" stroke-width="1.2" />
<line x1="470.5" y1="36.0" x2="500.3" y2="36.0" stroke="#111" stroke-width="1.6" />
<line x1="483.4" y1="21.5" x2="483.4" y2="27.7" stroke="#3a3a3a" stroke-width="1.15" />
<line x1="480.72" y1="23.05" x2="486.08" y2="26.15" stroke="#3a3a3a" stroke-width="1.15" />
<line x1="480.72" y1="26.15" x2="486.08" y2="23.05" stroke="#3a3a3a" stroke-width="1.15" />
<line x1="491.3" y1="21.5" x2="491.3" y2="27.7" stroke="#3a3a3a" stroke-width="1.15" />
<line x1="488.62" y1="23.05" x2="493.98" y2="26.15" stroke="#3a3a3a" stroke-width="1.15" />
<line x1="488.62" y1="26.15" x2="493.98" y2="23.05" stroke="#3a3a3a" stroke-width="1.15" />
<text transform="translate(414.5,164.0) rotate(-45)" font-family="Liberation Sans, sans-serif" font-size="9" font-weight="bold" stroke="#000" stroke-width="0.1" text-anchor="end">neg</text>
<text transform="translate(443.7,164.0) rotate(-45)" font-family="Liberation Sans, sans-serif" font-size="9" font-weight="bold" stroke="#000" stroke-width="0.1" text-anchor="end">PTX3</text>
<text transform="translate(474.2,164.0) rotate(-45)" font-family="Liberation Sans, sans-serif" font-size="9" font-weight="bold" stroke="#000" stroke-width="0.1" text-anchor="end">conidia</text>
<text transform="translate(504.7,164.0) rotate(-45)" font-family="Liberation Sans, sans-serif" font-size="9" font-weight="bold" stroke="#000" stroke-width="0.1" text-anchor="end">conidia+PTX3</text>
<text transform="translate(357.8,82.65) rotate(-90)" font-family="Liberation Sans, sans-serif" font-size="10.0" font-weight="bold" text-anchor="middle" textLength="114.9" lengthAdjust="spacing">total activated CD11b/</text>
<text transform="translate(367.6,82.95) rotate(-90)" font-family="Liberation Sans, sans-serif" font-size="10.0" font-weight="bold" text-anchor="middle" textLength="138.1" lengthAdjust="spacing">total CD11b (MFI PE/APC)</text>
</svg></body></html>
